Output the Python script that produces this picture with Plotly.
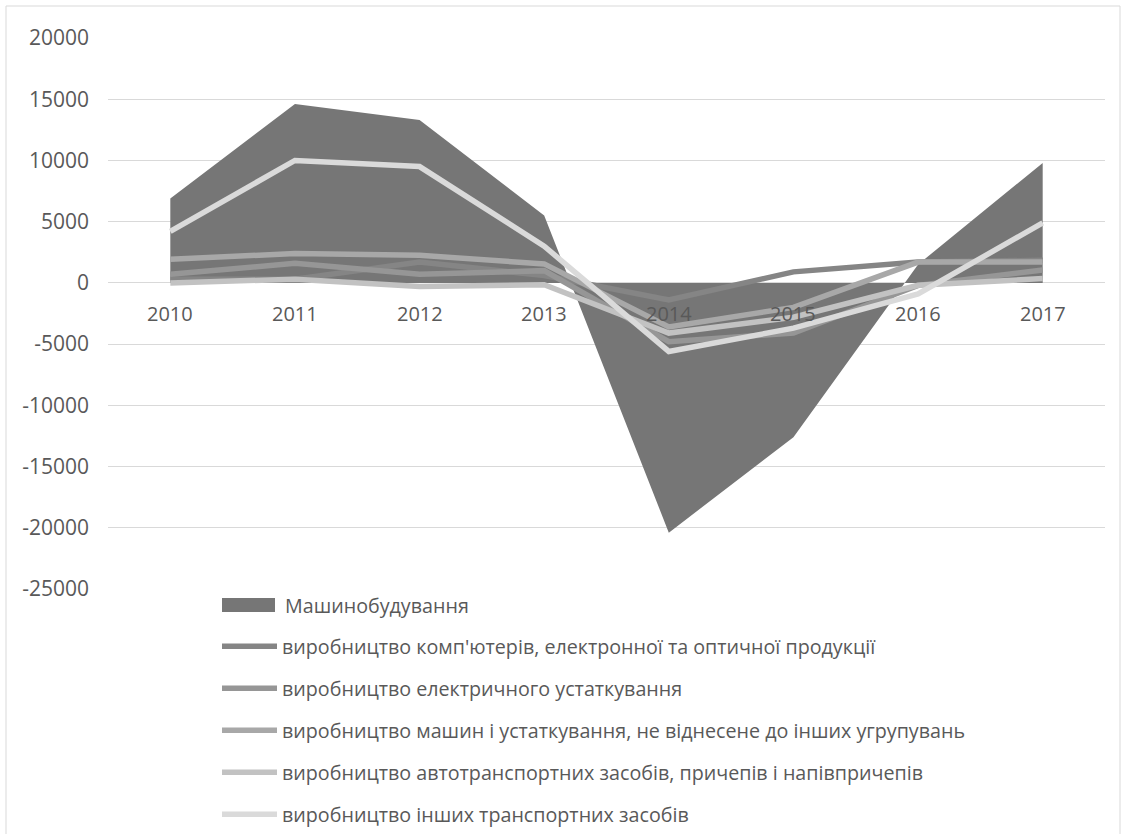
import plotly.graph_objects as go

years = ["2010", "2011", "2012", "2013", "2014", "2015", "2016", "2017"]

total_mach = [6900, 14600, 13300, 5500, -20400, -12600, 1500, 9800]
computers = [300, 300, 1700, 600, -1400, 900, 1700, 1850]
electrical = [700, 1600, 700, 1000, -4800, -4100, -200, 1050]
machinery = [1930, 2400, 2250, 1550, -3600, -2000, 1700, 1700]
motor_vehicles = [0, 300, -300, -150, -4100, -2800, -200, 350]
other_transport = [4200, 10000, 9500, 3000, -5600, -3700, -900, 4900]

area_name = "Машинобудування"
line_names = [
    "виробництво комп'ютерів, електронної та оптичної продукції",
    "виробництво електричного устаткування",
    "виробництво машин і устаткування, не віднесене до інших угрупувань",
    "виробництво автотранспортних засобів, причепів і напівпричепів",
    "виробництво інших транспортних засобів",
]
line_values = [computers, electrical, machinery, motor_vehicles, other_transport]
line_colors = ["#858585", "#969696", "#a8a8a8", "#c2c2c2", "#dadada"]
area_color = "#767676"

y_ticks = [20000, 15000, 10000, 5000, 0, -5000, -10000, -15000, -20000, -25000]

font_family = "Open Sans, Liberation Sans, sans-serif"
text_color = "#595959"

# plot-area geometry in pixels, used to place paper-space decorations
W, H = 1127, 834
L, R, T, B = 108, 22, 38, 245
PW, PH = W - L - R, H - T - B


def px_x(p):
    return (p - L) / PW


def px_y(p):
    return (H - B - p) / PH


xs = list(range(len(years)))

fig = go.Figure()
fig.add_trace(go.Scatter(
    x=xs, y=total_mach, name=area_name,
    mode="lines", fill="tozeroy", fillcolor=area_color,
    line=dict(color=area_color, width=0),
    showlegend=False,
))
for i, (name, vals, col) in enumerate(zip(line_names, line_values, line_colors)):
    fig.add_trace(go.Scatter(
        x=xs, y=vals, name=name, mode="lines",
        line=dict(color=col, width=5.5),
        legendgroup=f"g{i}",
    ))

# year labels sit on the zero line (category axis crossing at 0)
annotations = [
    dict(x=i, y=0, xref="x", yref="y", text=yr, showarrow=False,
         yanchor="top", yshift=-15,
         font=dict(family=font_family, size=20, color=text_color))
    for i, yr in enumerate(years)
]
# legend entry for the filled area series
annotations.append(dict(
    x=px_x(283), y=px_y(605), xref="paper", yref="paper",
    text=area_name, showarrow=False, xanchor="left", yanchor="middle",
    font=dict(family=font_family, size=19.7, color=text_color),
))

shapes = [
    dict(type="rect", xref="paper", yref="paper",
         x0=px_x(222), x1=px_x(275), y0=px_y(612), y1=px_y(598),
         fillcolor=area_color, line=dict(width=0)),
    dict(type="rect", xref="paper", yref="paper",
         x0=px_x(6), x1=px_x(1120), y0=px_y(H + 5), y1=px_y(6),
         line=dict(color="#d9d9d9", width=1), layer="below"),
]

fig.update_layout(
    width=W, height=H,
    margin=dict(l=L, r=R, t=T, b=B, autoexpand=False),
    paper_bgcolor="white", plot_bgcolor="white",
    font=dict(family=font_family, size=19.7, color=text_color),
    xaxis=dict(range=[-0.5, len(years) - 0.5], showgrid=False, zeroline=False,
               showticklabels=False, fixedrange=True),
    yaxis=dict(range=[-25000, 20000], tickvals=y_ticks,
               ticktext=[str(v) for v in y_ticks],
               showgrid=True, gridcolor="#d9d9d9", gridwidth=1,
               zeroline=True, zerolinecolor="#d9d9d9", zerolinewidth=1,
               ticks="", ticklabelstandoff=18,
               tickfont=dict(family=font_family, size=21, color=text_color)),
    showlegend=True,
    legend=dict(x=px_x(217), y=px_y(627), xanchor="left", yanchor="top",
                traceorder="grouped", tracegroupgap=13.4, itemwidth=55,
                bgcolor="rgba(0,0,0,0)",
                font=dict(family=font_family, size=19.7, color=text_color)),
    annotations=annotations,
    shapes=shapes,
)

fig.write_html("out.html")
